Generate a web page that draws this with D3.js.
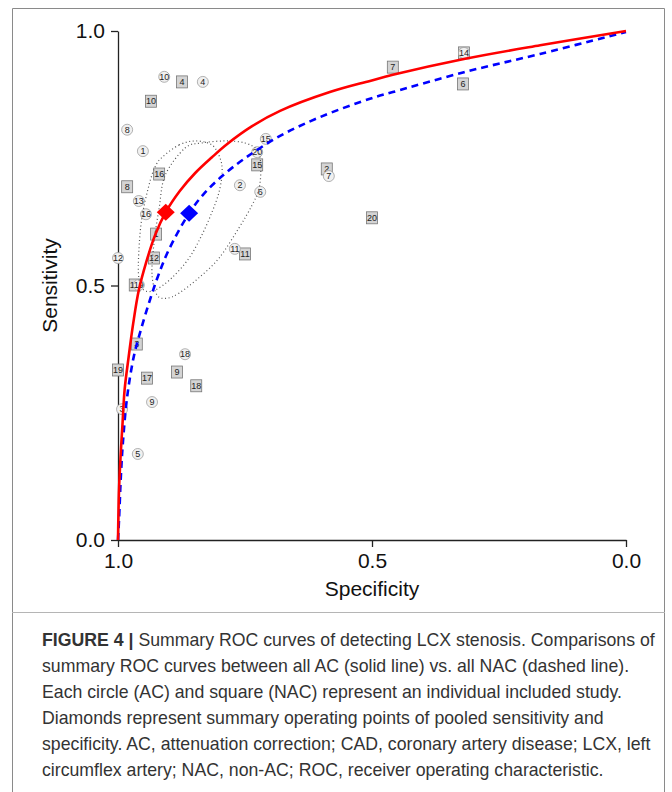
<!DOCTYPE html>
<html>
<head>
<meta charset="utf-8">
<script src="https://cdn.jsdelivr.net/npm/d3@7"></script>
<style>
  body { margin: 0; background: #fff; }
  svg { display: block; }
</style>
</head>
<body>
<div id="chart"></div>
<script>
// summary ROC curves (specificity, sensitivity)
var acCurveSpec  = [1.000, 0.998, 0.995, 0.991, 0.987, 0.979, 0.970, 0.959, 0.945, 0.927, 0.906, 0.878, 0.848, 0.815, 0.785, 0.736, 0.681, 0.583, 0.504, 0.459, 0.319, 0.169, 0.000];
var acCurveSens  = [0.000, 0.098, 0.163, 0.230, 0.295, 0.360, 0.426, 0.491, 0.544, 0.599, 0.644, 0.686, 0.721, 0.752, 0.778, 0.813, 0.843, 0.880, 0.902, 0.914, 0.945, 0.972, 1.000];
var nacCurveSpec = [1.000, 0.998, 0.994, 0.990, 0.982, 0.969, 0.955, 0.937, 0.921, 0.900, 0.860, 0.831, 0.795, 0.750, 0.681, 0.602, 0.504, 0.459, 0.319, 0.169, 0.000];
var nacCurveSens = [0.000, 0.039, 0.132, 0.196, 0.281, 0.360, 0.413, 0.472, 0.519, 0.570, 0.642, 0.680, 0.715, 0.750, 0.794, 0.831, 0.867, 0.880, 0.919, 0.955, 0.998];

// pooled operating points
var summarySpec = [0.906, 0.860];
var summarySens = [0.644, 0.642];

// confidence regions
var acRegionSpec  = [0.913, 0.880, 0.848, 0.815, 0.799, 0.795, 0.801, 0.815, 0.835, 0.860, 0.894, 0.927, 0.949, 0.959, 0.959, 0.953, 0.939, 0.927];
var acRegionSens  = [0.752, 0.776, 0.784, 0.776, 0.750, 0.723, 0.684, 0.644, 0.599, 0.554, 0.515, 0.491, 0.491, 0.515, 0.566, 0.633, 0.697, 0.733];
var nacRegionSpec = [0.868, 0.835, 0.789, 0.750, 0.726, 0.719, 0.722, 0.736, 0.762, 0.801, 0.841, 0.880, 0.904, 0.923, 0.933, 0.929, 0.919, 0.907];
var nacRegionSens = [0.770, 0.780, 0.784, 0.780, 0.766, 0.737, 0.692, 0.658, 0.613, 0.554, 0.515, 0.485, 0.475, 0.481, 0.521, 0.585, 0.652, 0.717];

// individual studies, AC (circles)
var acStudy = ["10", "4", "8", "1", "13", "16", "15", "20", "2", "6", "12", "11", "7", "18", "9", "3", "5", "19", "14"];
var acSpec  = [0.909, 0.833, 0.982, 0.951, 0.959, 0.945, 0.709, 0.726, 0.760, 0.720, 1.000, 0.770, 0.585, 0.868, 0.933, 0.992, 0.961, 0.959, 0.319];
var acSens  = [0.910, 0.900, 0.806, 0.764, 0.666, 0.640, 0.788, 0.762, 0.697, 0.684, 0.554, 0.572, 0.715, 0.365, 0.271, 0.257, 0.169, 0.501, 0.957];

// individual studies, NAC (squares)
var nacStudy = ["4", "10", "16", "8", "1", "12", "11", "15", "2", "20", "3", "19", "9", "17", "18", "7", "14", "6", "13"];
var nacSpec  = [0.874, 0.935, 0.919, 0.982, 0.925, 0.929, 0.750, 0.726, 0.589, 0.500, 0.963, 1.000, 0.884, 0.943, 0.846, 0.459, 0.319, 0.321, 0.967];
var nacSens  = [0.900, 0.862, 0.719, 0.694, 0.601, 0.554, 0.562, 0.737, 0.729, 0.633, 0.385, 0.334, 0.330, 0.318, 0.303, 0.929, 0.957, 0.896, 0.501];

var axisTicks = [0, 0.5, 1];

var captionBold = "FIGURE 4 |";
var captionLines = [
  " Summary ROC curves of detecting LCX stenosis. Comparisons of",
  "summary ROC curves between all AC (solid line) vs. all NAC (dashed line).",
  "Each circle (AC) and square (NAC) represent an individual included study.",
  "Diamonds represent summary operating points of pooled sensitivity and",
  "specificity. AC, attenuation correction; CAD, coronary artery disease; LCX, left",
  "circumflex artery; NAC, non-AC; ROC, receiver operating characteristic."
];

var w = 672, h = 792;
var font = "Liberation Sans, Arial, sans-serif";

var svg = d3.select("#chart").append("svg")
  .attr("width", w)
  .attr("height", h);

// figure frame
svg.append("path")
  .attr("d", "M12.5," + (h + 2) + "V8.5H664.5V" + (h + 2))
  .attr("fill", "none")
  .attr("stroke", "#8a8a8a")
  .attr("stroke-width", 1);
svg.append("line")
  .attr("x1", 12).attr("x2", 665)
  .attr("y1", 612.5).attr("y2", 612.5)
  .attr("stroke", "#b5b5b5")
  .attr("stroke-width", 1);

var xScale = d3.scaleLinear().domain([1, 0]).range([118, 626]);
var yScale = d3.scaleLinear().domain([0, 1]).range([540, 31]);

// axes
var xAxis = d3.axisBottom(xScale).tickValues(axisTicks).tickFormat(d3.format(".1f"))
  .tickSize(7).tickSizeOuter(0).tickPadding(6);
var yAxis = d3.axisLeft(yScale).tickValues(axisTicks).tickFormat(d3.format(".1f"))
  .tickSize(7).tickSizeOuter(0).tickPadding(6);

var gx = svg.append("g")
  .attr("transform", "translate(0," + yScale(0) + ")")
  .call(xAxis);
var gy = svg.append("g")
  .attr("transform", "translate(" + xScale(1) + ",0)")
  .call(yAxis);

[gx, gy].forEach(function(g) {
  g.selectAll("path, line").attr("stroke", "#222").attr("stroke-width", 1.3);
  g.selectAll("text")
    .attr("fill", "#111")
    .style("font-family", font)
    .style("font-size", "21px");
});

svg.append("text")
  .attr("x", xScale(0.5))
  .attr("y", 596)
  .attr("text-anchor", "middle")
  .attr("fill", "#111")
  .style("font-family", font)
  .style("font-size", "21px")
  .text("Specificity");

svg.append("text")
  .attr("transform", "translate(57," + yScale(0.5) + ") rotate(-90)")
  .attr("text-anchor", "middle")
  .attr("fill", "#111")
  .style("font-family", font)
  .style("font-size", "21px")
  .text("Sensitivity");

function toPoints(spec, sens) {
  return spec.map(function(s, i) { return [s, sens[i]]; });
}

var plot = svg.append("g").attr("id", "roc-region");

var nacData = toPoints(nacSpec, nacSens).map(function(p, i) { return {spec: p[0], sens: p[1], id: nacStudy[i]}; });
var acData  = toPoints(acSpec, acSens).map(function(p, i) { return {spec: p[0], sens: p[1], id: acStudy[i]}; });

// study markers: squares (NAC)
var sq = plot.selectAll("g.nac")
  .data(nacData)
  .enter().append("g")
  .attr("class", "nac")
  .attr("transform", function(d) { return "translate(" + xScale(d.spec) + "," + yScale(d.sens) + ")"; });
sq.append("rect")
  .attr("x", -5.5).attr("y", -6)
  .attr("width", 11).attr("height", 12)
  .attr("fill", "#d4d4d4")
  .attr("stroke", "#777")
  .attr("stroke-width", 0.8);
sq.append("text")
  .attr("text-anchor", "middle")
  .attr("dy", "0.36em")
  .attr("fill", "#222")
  .style("font-family", font)
  .style("font-size", "9px")
  .text(function(d) { return d.id; });

// study markers: circles (AC)
var ci = plot.selectAll("g.ac")
  .data(acData)
  .enter().append("g")
  .attr("class", "ac")
  .attr("transform", function(d) { return "translate(" + xScale(d.spec) + "," + yScale(d.sens) + ")"; });
ci.append("circle")
  .attr("r", 5.5)
  .attr("fill", "#f0f0f0")
  .attr("stroke", "#a0a0a0")
  .attr("stroke-width", 0.8);
ci.append("text")
  .attr("text-anchor", "middle")
  .attr("dy", "0.36em")
  .attr("fill", "#222")
  .style("font-family", font)
  .style("font-size", "9px")
  .text(function(d) { return d.id; });

// confidence regions
var region = d3.line()
  .curve(d3.curveCardinalClosed.tension(0))
  .x(function(d) { return xScale(d[0]); })
  .y(function(d) { return yScale(d[1]); });

[toPoints(acRegionSpec, acRegionSens), toPoints(nacRegionSpec, nacRegionSens)].forEach(function(pts) {
  plot.append("path")
    .datum(pts)
    .attr("d", region)
    .attr("fill", "none")
    .attr("stroke", "#555")
    .attr("stroke-width", 1.2)
    .attr("stroke-dasharray", "1,2.6");
});

// SROC curves
var sroc = d3.line()
  .curve(d3.curveCatmullRom.alpha(0.5))
  .x(function(d) { return xScale(d[0]); })
  .y(function(d) { return yScale(d[1]); });

plot.append("path")
  .datum(toPoints(nacCurveSpec, nacCurveSens))
  .attr("id", "nac-line")
  .attr("d", sroc)
  .attr("fill", "none")
  .attr("stroke", "#0000ff")
  .attr("stroke-width", 2.6)
  .attr("stroke-dasharray", "7,5");

plot.append("path")
  .datum(toPoints(acCurveSpec, acCurveSens))
  .attr("id", "ac-line")
  .attr("d", sroc)
  .attr("fill", "none")
  .attr("stroke", "#ff0000")
  .attr("stroke-width", 2.6);

// summary diamonds
var diamondColors = ["#ff0000", "#0000ff"];
plot.selectAll("path.diamond")
  .data(toPoints(summarySpec, summarySens))
  .enter().append("path")
  .attr("class", "diamond")
  .attr("d", "M0,-8.5L9,0L0,8.5L-9,0Z")
  .attr("transform", function(d) { return "translate(" + xScale(d[0]) + "," + yScale(d[1]) + ")"; })
  .attr("fill", function(d, i) { return diamondColors[i]; });

// caption
var cap = svg.append("g").attr("id", "caption");
var capText = cap.selectAll("text")
  .data(captionLines)
  .enter().append("text")
  .attr("x", 0)
  .attr("y", function(d, i) { return i * 26; })
  .attr("fill", "#333")
  .style("font-family", font)
  .style("font-size", "17.5px");
capText.each(function(d, i) {
  var t = d3.select(this);
  if (i === 0) {
    t.append("tspan").style("font-weight", "bold").text(captionBold);
  }
  t.append("tspan").text(d);
});
// squeeze to the narrow face of the journal font
var firstWidth = capText.nodes()[0].getComputedTextLength();
var squeeze = 613 / firstWidth;
cap.attr("transform", "translate(42,646) scale(" + squeeze + ",1)");
</script>
</body>
</html>
